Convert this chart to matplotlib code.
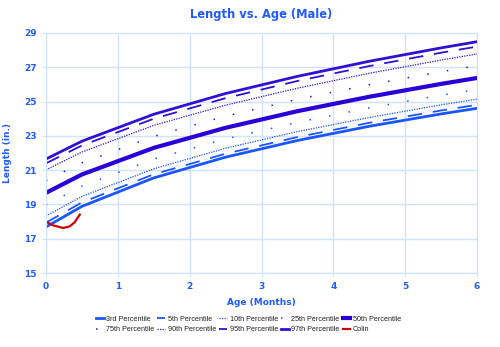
import matplotlib
matplotlib.use("Agg")
import matplotlib.pyplot as plt

# CDC length-for-age, boys, converted to inches
ages = [0, 0.5, 1.5, 2.5, 3.5, 4.5, 5.5, 6.5]
p3 = [17.69, 18.89, 20.55, 21.76, 22.73, 23.56, 24.28, 24.93]
p5 = [17.94, 19.12, 20.76, 21.96, 22.93, 23.76, 24.48, 25.14]
p10 = [18.33, 19.47, 21.08, 22.28, 23.25, 24.07, 24.81, 25.47]
p25 = [18.97, 20.07, 21.65, 22.82, 23.79, 24.63, 25.37, 26.04]
p50 = [19.68, 20.75, 22.30, 23.47, 24.44, 25.28, 26.03, 26.72]
p75 = [20.39, 21.43, 22.97, 24.15, 25.13, 25.98, 26.74, 27.44]
p90 = [21.02, 22.06, 23.61, 24.79, 25.78, 26.65, 27.42, 28.13]
p95 = [21.40, 22.44, 24.00, 25.20, 26.20, 27.07, 27.85, 28.56]
p97 = [21.65, 22.69, 24.26, 25.47, 26.47, 27.35, 28.13, 28.85]

colin_age = [0.01, 0.1, 0.24, 0.33, 0.4, 0.47]
colin_len = [17.97, 17.78, 17.63, 17.72, 17.97, 18.41]

BLUE = "#1a55ff"
INDIGO = "#3010d4"
TEXT = "#1f5cff"
GRID = "#cfe3ff"

fig = plt.figure(figsize=(5.0, 3.47), dpi=100)
ax = fig.add_axes([0.092, 0.213, 0.862, 0.692])

l3, = ax.plot(ages, p3, color=BLUE, lw=2.0, label="3rd Percentile")
l5, = ax.plot(ages, p5, color=BLUE, lw=1.3, dashes=(8, 6), label="5th Percentile")
l10, = ax.plot(ages, p10, color=BLUE, lw=0.9, dashes=(1, 1), label="10th Percentile")
l25, = ax.plot(ages, p25, color=BLUE, lw=1.1, dashes=(1, 12), label="25th Percentile")
l50, = ax.plot(ages, p50, color="#2a00d8", lw=3.0, label="50th Percentile")
l75, = ax.plot(ages, p75, color=INDIGO, lw=1.1, dashes=(1, 12), label="75th Percentile")
l90, = ax.plot(ages, p90, color=INDIGO, lw=0.9, dashes=(1, 1), label="90th Percentile")
l95, = ax.plot(ages, p95, color=INDIGO, lw=1.3, dashes=(8, 6), label="95th Percentile")
l97, = ax.plot(ages, p97, color=INDIGO, lw=2.0, label="97th Percentile")
lc, = ax.plot(colin_age, colin_len, color="#cc0000", lw=1.6, label="Colin")

ax.set_xlim(0, 6)
ax.set_ylim(15, 29)
ax.set_xticks(range(0, 7))
ax.set_yticks(range(15, 30, 2))
ax.grid(True, color=GRID, lw=1.0)
ax.set_axisbelow(True)
for s in ax.spines.values():
    s.set_color(GRID)
ax.tick_params(colors=GRID, labelcolor=TEXT, labelsize=6.5, length=3)
for lbl in ax.get_xticklabels() + ax.get_yticklabels():
    lbl.set_fontweight("bold")

ax.set_title("Length vs. Age (Male)", color=TEXT, fontsize=8.3, fontweight="bold", pad=11)
ax.set_xlabel("Age (Months)", color=TEXT, fontsize=6.5, fontweight="bold", labelpad=5)
ax.set_ylabel("Length (in.)", color=TEXT, fontsize=6.5, fontweight="bold", labelpad=9)

# legend reads row-wise, matplotlib fills column-wise
handles = [l3, l75, l5, l90, l10, l95, l25, l97, l50, lc]
fig.legend(handles=handles, labels=[h.get_label() for h in handles],
           loc="center", bbox_to_anchor=(0.497, 0.065), ncol=5, frameon=False,
           prop={"family": "Liberation Sans", "size": 5.2},
           handlelength=1.1, handletextpad=0.35, columnspacing=0.4,
           labelspacing=0.45, labelcolor="#222222")

fig.savefig("out.png", dpi=100)
